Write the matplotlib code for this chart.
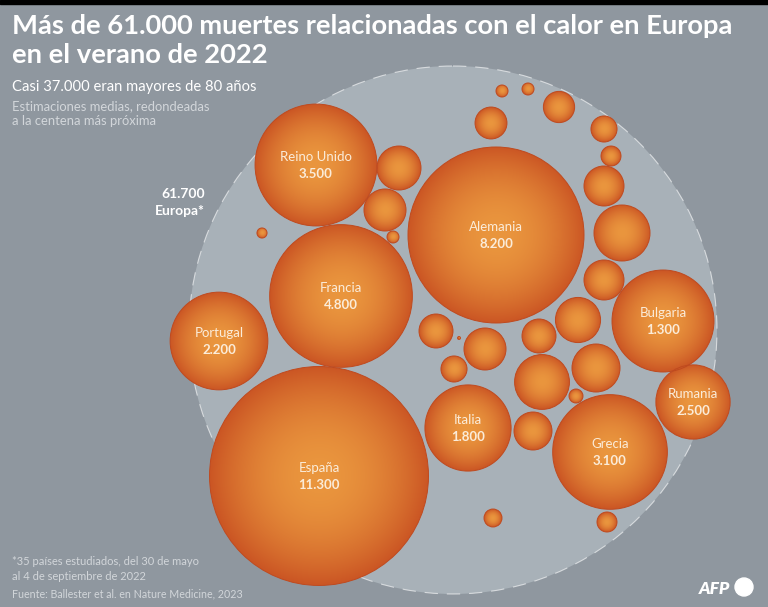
import numpy as np
import matplotlib
matplotlib.use("Agg")
import matplotlib.pyplot as plt
from matplotlib.patches import Circle, Rectangle

W, H = 768, 607

# labelled countries: printed label and the death count the bubble area stands for
countries = ["España", "Alemania", "Francia", "Reino Unido", "Portugal",
             "Italia", "Grecia", "Bulgaria", "Rumania"]
printed = ["11.300", "8.200", "4.800", "3.500", "2.200", "1.800", "3.100", "1.300", "2.500"]
country_deaths = [11300, 7300, 4800, 3500, 2250, 1750, 3100, 2450, 1300]
country_x = [319, 496, 341, 316, 219, 468, 610, 663, 693]
country_y = [476, 235, 296, 165, 341, 428, 452, 321, 402]

# the other countries studied (unlabelled bubbles)
other_deaths = [456, 416, 34, 24, 34, 34, 230, 240, 160, 94, 377, 739, 377,
                480, 272, 416, 272, 160, 710, 543, 46, 340, 2, 76, 94]
other_x = [399, 385, 393, 262, 502, 528, 559, 491, 604, 611, 604, 622, 604,
           578, 436, 485, 539, 454, 542, 596, 576, 533, 459, 493, 607]
other_y = [168, 210, 237, 233, 91, 89, 107, 123, 129, 156, 186, 233, 280,
           320, 331, 349, 336, 369, 382, 368, 396, 431, 338, 518, 522]

europe_total = "61.700"
px_per_sqrt = 1.03   # bubble radius in px = px_per_sqrt * sqrt(deaths)

BG = "#8f979f"
RING = "#a8b1b8"

plt.rcParams['font.family'] = ['Lato', 'DejaVu Sans']

fig = plt.figure(figsize=(W / 100, H / 100), dpi=100, facecolor=BG)
ax = fig.add_axes([0, 0, 1, 1])
ax.set_facecolor(BG)
ax.axis("off")

# thin black band on top
ax.add_patch(Rectangle((0, 0), W, 4, color="black", zorder=1))

# Europe ring
ax.add_patch(Circle((453, 330), 264, facecolor=RING, edgecolor="none", zorder=1))
ax.add_patch(Circle((453, 330), 264, facecolor="none", edgecolor="white",
                    lw=0.8, linestyle=(0, (12, 8)), alpha=0.6, zorder=2))

# radial gradient used to fill every bubble
n = 200
g = np.linspace(-1, 1, n)
gx, gy = np.meshgrid(g, g)
t = np.clip(np.sqrt(gx ** 2 + gy ** 2), 0, 1) ** 1.9
inner = np.array([234, 150, 62]) / 255
outer = np.array([203, 86, 36]) / 255
grad = inner[None, None, :] * (1 - t[..., None]) + outer[None, None, :] * t[..., None]


def bubble(cx, cy, deaths):
    r = px_per_sqrt * np.sqrt(deaths)
    c = Circle((cx, cy), r, facecolor="none", edgecolor="#bf4a1f", lw=0.7, zorder=4)
    ax.add_patch(c)
    im = ax.imshow(grad, extent=(cx - r, cx + r, cy + r, cy - r),
                   interpolation="bilinear", zorder=3)
    im.set_clip_path(c)


for x, y, d in zip(other_x, other_y, other_deaths):
    bubble(x, y, d)

LBL = "#fbecd9"
for name, lab, x, y, d in zip(countries, printed, country_x, country_y, country_deaths):
    bubble(x, y, d)
    ax.text(x, y - 8, name, ha="center", va="center", color=LBL, fontsize=9.5, zorder=5)
    ax.text(x, y + 9, lab, ha="center", va="center", color=LBL, fontsize=9.5,
            fontweight="bold", zorder=5)

ax.text(205, 194, europe_total, ha="right", va="center", color="white", fontsize=10,
        fontweight="bold")
ax.text(205, 211, "Europa*", ha="right", va="center", color="white", fontsize=10,
        fontweight="bold")

# titles
ax.text(12, 34, "Más de 61.000 muertes relacionadas con el calor en Europa",
        color="white", fontsize=19.7, fontweight="bold", va="baseline")
ax.text(12, 63, "en el verano de 2022", color="white", fontsize=19.7,
        fontweight="bold", va="baseline")
ax.text(12, 91, "Casi 37.000 eran mayores de 80 años", color="white", fontsize=10.6,
        va="baseline")
ax.text(12, 110, "Estimaciones medias, redondeadas", color="#d2d6da", fontsize=9.4,
        va="baseline")
ax.text(12, 125, "a la centena más próxima", color="#d2d6da", fontsize=9.4,
        va="baseline")

# footer
ax.text(12, 565, "*35 países estudiados, del 30 de mayo", color="#d2d6da",
        fontsize=8, va="baseline")
ax.text(12, 580, "al 4 de septiembre de 2022", color="#d2d6da", fontsize=8,
        va="baseline")
ax.text(12, 597, "Fuente: Ballester et al. en Nature Medicine, 2023", color="#d2d6da",
        fontsize=7.7, va="baseline")

# AFP logo
ax.text(699, 594, "AFP", color="white", fontsize=12.5, fontweight="heavy",
        fontstyle="italic", va="baseline")
ax.add_patch(Circle((744, 587), 9, color="white", zorder=5))

ax.set_xlim(0, W)
ax.set_ylim(H, 0)
ax.set_aspect("auto")

fig.savefig("out.png", dpi=100, facecolor=BG)
